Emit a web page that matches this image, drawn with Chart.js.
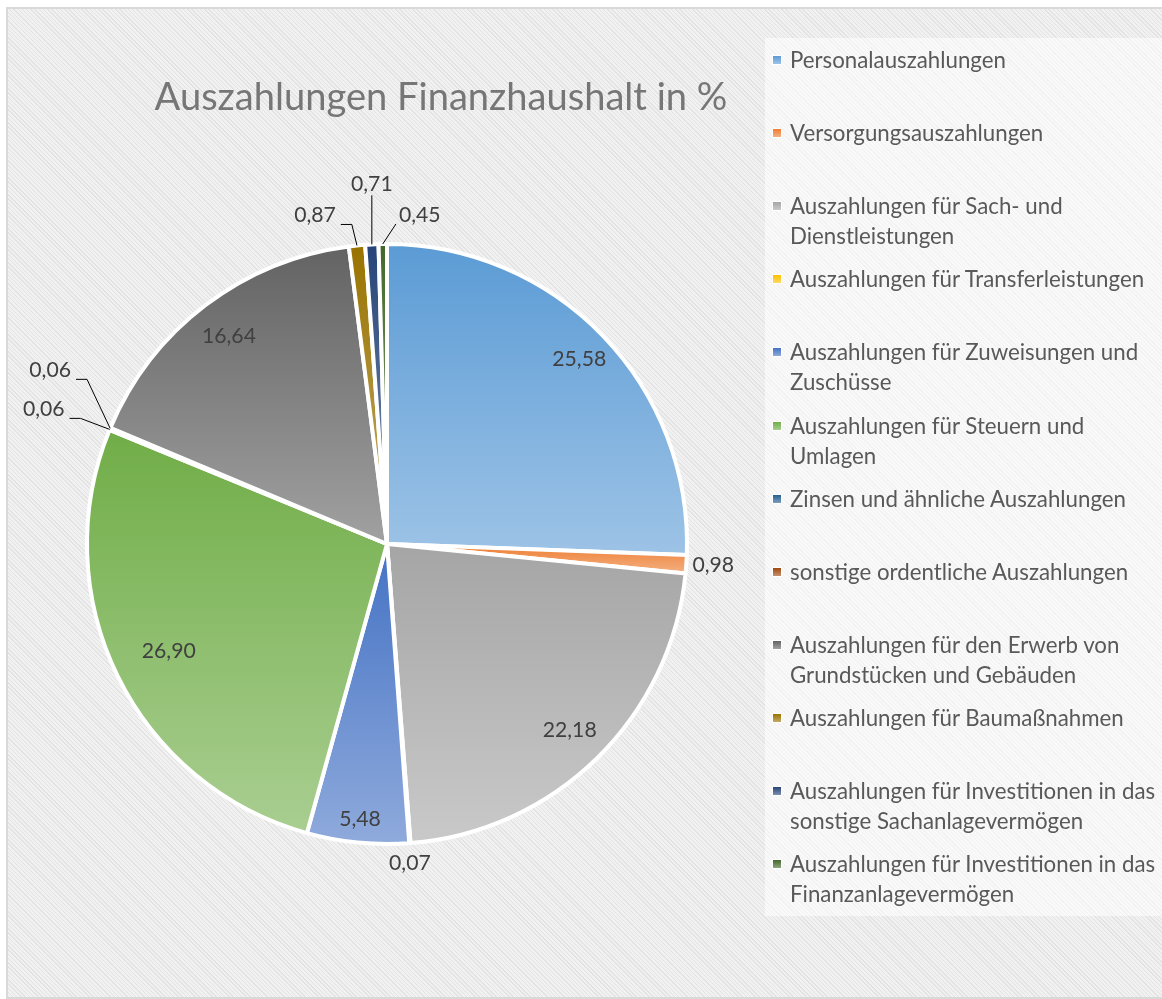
<!DOCTYPE html>
<html>
<head>
<meta charset="utf-8">
<script src="https://cdn.jsdelivr.net/npm/chart.js@4.4.1/dist/chart.umd.min.js"></script>
<style>
    html, body { margin: 0; padding: 0; background: #fff; }
    #frame {
        position: absolute; left: 6px; top: 7px; width: 1160px; height: 988px;
        border: 2px solid #d9d9d9;
        background: repeating-linear-gradient(45deg, #e3e3e3 0 1px, #f1f1f1 1px 3px);
    }
    #chart { position: absolute; left: 0; top: 0; }
    #title {
        position: absolute; left: 0; top: 72px; width: 882px; text-align: center;
        font-family: Lato, sans-serif; color: #767676; white-space: nowrap;
    }
    #legend {
        position: absolute; left: 765px; top: 38px; width: 397px; height: 878px;
        background: rgba(255, 255, 255, 0.55);
    }
    .item { position: absolute; left: 0; width: 100%; }
    .mark {
        position: absolute; left: 7px; top: 10px; width: 8px; height: 8px;
        border: 1px solid #fff;
    }
    .txt {
        position: absolute; left: 25px; top: 0; white-space: pre; line-height: 30px;
        font-family: Lato, sans-serif; color: #595959;
    }
</style>
</head>
<body>
<div id="frame"></div>
<canvas id="chart" width="1162" height="999"></canvas>
<div id="title">Auszahlungen Finanzhaushalt in %</div>
<div id="legend"></div>
<script>
// Kategorien (\n = Zeilenumbruch in der Legende)
const labels = [
    'Personalauszahlungen',
    'Versorgungsauszahlungen',
    'Auszahlungen für Sach- und\nDienstleistungen',
    'Auszahlungen für Transferleistungen',
    'Auszahlungen für Zuweisungen und\nZuschüsse',
    'Auszahlungen für Steuern und\nUmlagen',
    'Zinsen und ähnliche Auszahlungen',
    'sonstige ordentliche Auszahlungen',
    'Auszahlungen für den Erwerb von\nGrundstücken und Gebäuden',
    'Auszahlungen für Baumaßnahmen',
    'Auszahlungen für Investitionen in das\nsonstige Sachanlagevermögen',
    'Auszahlungen für Investitionen in das\nFinanzanlagevermögen'
];
// Anteile in %
const values = [25.58, 0.98, 22.18, 0.07, 5.48, 26.90, 0.06, 0.06, 16.64, 0.87, 0.71, 0.45];
const sliceColors = ['#5B9BD5', '#ED7D31', '#A5A5A5', '#FFC000', '#4472C4', '#70AD47',
                     '#255E91', '#9E480E', '#636363', '#997300', '#264478', '#43682B'];

// Beschriftungen innen: Abstand vom Mittelpunkt (Anteil am Radius)
const insideRadius = {0: 0.89, 2: 0.87, 4: 0.92, 5: 0.81, 8: 0.87};
// Beschriftungen ausserhalb: Verschiebung gegenüber dem Rand des Segments
const outsideOffsets = {1: [27, 1], 3: [0, 20], 6: [-66, -20], 7: [-60, -58],
                        9: [-42, -30], 10: [0, -60], 11: [37, -29]};

const PIE_RADIUS = 300;

function tint(hex, f) {
    const n = parseInt(hex.slice(1), 16);
    const r = n >> 16, g = (n >> 8) & 255, b = n & 255;
    const m = v => Math.round(v + (255 - v) * f);
    return 'rgb(' + m(r) + ',' + m(g) + ',' + m(b) + ')';
}

// Schriftgrösse so wählen, dass ein Text eine bestimmte Breite hat
const measure = document.createElement('canvas').getContext('2d');
function fitSize(text, width, family) {
    measure.font = '100px ' + family;
    return 100 * width / measure.measureText(text).width;
}
const titleSize = fitSize('Auszahlungen Finanzhaushalt in %', 573, 'Lato');
const legendSize = fitSize('Personalauszahlungen', 216, 'Lato');
const labelSize = fitSize('22,18', 54, 'Lato');

document.getElementById('title').style.fontSize = titleSize + 'px';

// Legende
const legend = document.getElementById('legend');
labels.forEach((name, i) => {
    const item = document.createElement('div');
    item.className = 'item';
    item.style.top = (7 + i * 73.1) + 'px';
    const mark = document.createElement('div');
    mark.className = 'mark';
    mark.style.background = 'linear-gradient(' + sliceColors[i] + ',' + tint(sliceColors[i], 0.4) + ')';
    const txt = document.createElement('div');
    txt.className = 'txt';
    txt.style.fontSize = legendSize + 'px';
    txt.textContent = name;
    item.appendChild(mark);
    item.appendChild(txt);
    legend.appendChild(item);
});

// senkrechter Verlauf je Segment (von der Farbe zu einer helleren Tönung)
function sliceGradient(context) {
    const i = context.dataIndex;
    const chart = context.chart;
    const area = chart.chartArea;
    if (!area || i === undefined) return sliceColors[i || 0];
    const cx = (area.left + area.right) / 2, cy = (area.top + area.bottom) / 2;
    const total = values.reduce((a, b) => a + b, 0);
    let before = 0;
    for (let j = 0; j < i; j++) before += values[j];
    const a0 = before / total * 2 * Math.PI;
    const a1 = (before + values[i]) / total * 2 * Math.PI;
    const ys = [cy, cy - PIE_RADIUS * Math.cos(a0), cy - PIE_RADIUS * Math.cos(a1)];
    if (a0 < Math.PI && a1 > Math.PI) ys.push(cy + PIE_RADIUS);
    if (a0 <= 0.0001 || a1 >= 2 * Math.PI - 0.0001) ys.push(cy - PIE_RADIUS);
    const g = chart.ctx.createLinearGradient(0, Math.min(...ys), 0, Math.max(...ys));
    g.addColorStop(0, sliceColors[i]);
    g.addColorStop(1, tint(sliceColors[i], 0.4));
    return g;
}

const sliceLabels = {
    id: 'sliceLabels',
    afterDatasetsDraw(chart) {
        const c = chart.ctx;
        const meta = chart.getDatasetMeta(0);
        c.save();
        c.font = labelSize + 'px Lato';
        c.fillStyle = '#404040';
        c.strokeStyle = '#000';
        c.lineWidth = 1;
        c.textAlign = 'center';
        c.textBaseline = 'middle';
        meta.data.forEach((arc, i) => {
            const p = arc.getProps(['x', 'y', 'startAngle', 'endAngle', 'outerRadius'], true);
            const mid = (p.startAngle + p.endAngle) / 2;
            const text = values[i].toFixed(2).replace('.', ',');
            const off = outsideOffsets[i];
            if (!off) {
                const r = p.outerRadius * (insideRadius[i] || 0.87);
                c.fillText(text, p.x + r * Math.cos(mid), p.y + r * Math.sin(mid));
                return;
            }
            const ex = p.x + p.outerRadius * Math.cos(mid);
            const ey = p.y + p.outerRadius * Math.sin(mid);
            const lx = ex + off[0], ly = ey + off[1];
            c.fillText(text, lx, ly);
            if (Math.hypot(off[0], off[1]) < 30) return;
            const w = c.measureText(text).width, h = labelSize * 0.75;
            const bottom = ly + h / 2 + 1;
            c.beginPath();
            if (off[0] < -15) {
                c.moveTo(lx + w / 2 + 5, bottom);
                c.lineTo(lx + w / 2 + 16, bottom);
            } else if (off[0] > 15) {
                c.moveTo(lx - w / 2 - 3, bottom);
            } else {
                c.moveTo(lx, bottom + 2);
            }
            c.lineTo(ex, ey);
            c.stroke();
        });
        c.restore();
    }
};

new Chart(document.getElementById('chart'), {
    type: 'pie',
    data: {
        labels: labels,
        datasets: [{
            data: values,
            backgroundColor: sliceGradient,
            borderColor: '#ffffff',
            borderWidth: 4
        }]
    },
    options: {
        responsive: false,
        animation: false,
        events: [],
        radius: PIE_RADIUS,
        layout: { padding: { left: 0, right: 388, top: 89, bottom: 0 } },
        plugins: {
            legend: { display: false },
            tooltip: { enabled: false },
            title: { display: false }
        }
    },
    plugins: [sliceLabels]
});
</script>
</body>
</html>
